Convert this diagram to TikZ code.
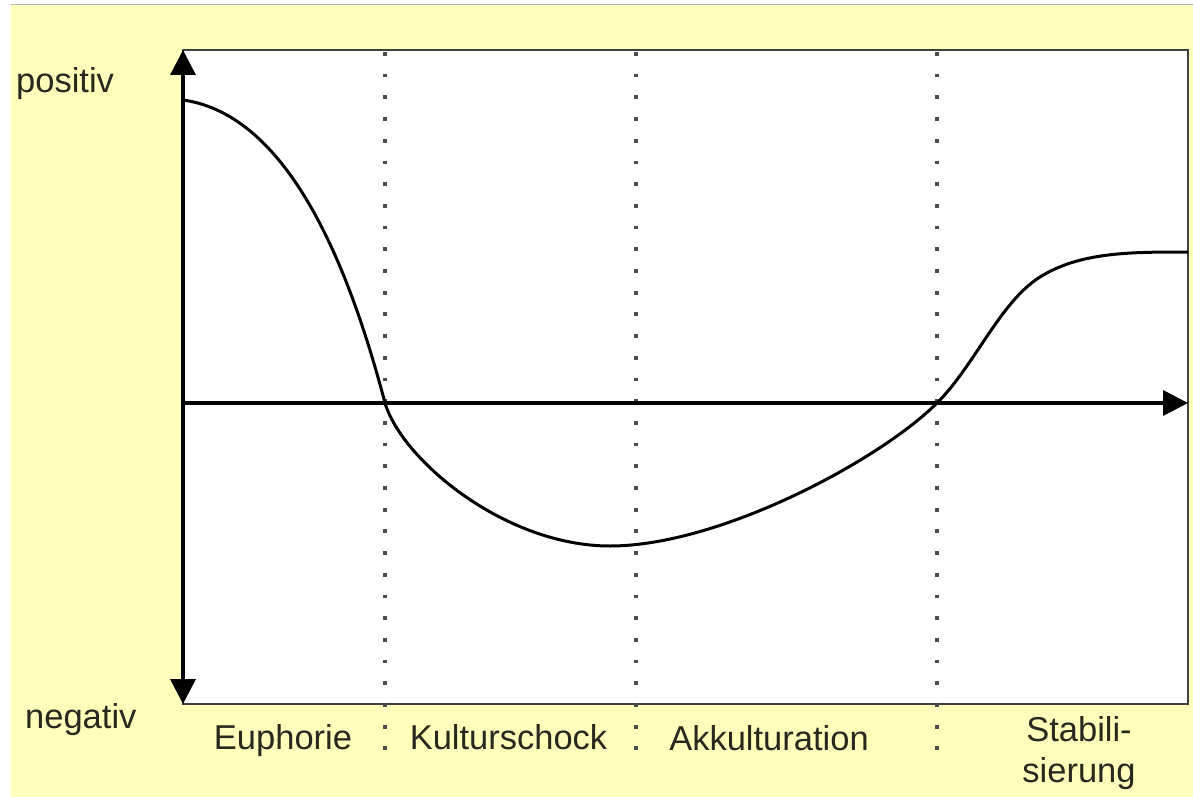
\documentclass[tikz,border=0pt]{standalone}
\usepackage{fontspec}
\setmainfont{Liberation Sans}
\usetikzlibrary{arrows.meta}
\definecolor{bgyellow}{RGB}{255,255,187}
\definecolor{txt}{RGB}{40,40,30}
\tikzset{
  lbl/.style={inner sep=0pt, text=txt, font=\fontsize{34.5}{41}\selectfont},
  axis/.style={line width=3.5pt, -{Triangle[length=25pt,width=25pt]}},
  phase/.style={line width=3.8pt, black!70, dash pattern=on 3.8pt off 17.9pt},
  curve/.style={line width=3pt, black},
  frame/.style={draw=black!75, fill=white, line width=2pt}
}
\begin{document}
\begin{tikzpicture}[x=1pt,y=-1pt]
\useasboundingbox (0,0) rectangle (1193,797);
% background
\fill[white] (0,0) rectangle (1193,797);
\fill[bgyellow] (11,5) rectangle (1193,797);
\draw[black!30, line width=1.2pt] (11,4.5) -- (1193,4.5);
% plot area
\draw[frame] (183,50) rectangle (1188,704);
% phase separators
\coordinate (s1t) at (385,52);  \coordinate (s1b) at (385,760);
\coordinate (s2t) at (636,52);  \coordinate (s2b) at (636,760);
\coordinate (s3t) at (937,52);  \coordinate (s3b) at (937,760);
\draw[phase] (s1t) -- (s1b);
\draw[phase] (s2t) -- (s2b);
\draw[phase] (s3t) -- (s3b);
% axes
\coordinate (O)    at (183,403);
\coordinate (ytop) at (183,50);
\coordinate (ybot) at (183,704);
\coordinate (xend) at (1188,403);
\draw[axis] (O) -- (ytop);
\draw[axis] (O) -- (ybot);
\draw[axis] (O) -- (xend);
% curve
\coordinate (c0) at (183,100);
\coordinate (c1) at (385,403);
\coordinate (c2) at (610,546);
\coordinate (c3) at (937,403);
\coordinate (c4) at (1040,277);
\coordinate (c5) at (1188,252);
\draw[curve] (c0) .. controls (290,115) and (350,270) .. (c1)
  .. controls (402,460) and (505,546) .. (c2)
  .. controls (720,546) and (880,460) .. (c3)
  .. controls (975,365) and (1000,302) .. (c4)
  .. controls (1080,252) and (1130,252) .. (c5);
% labels
\node[lbl, anchor=base west] (pos) at (16,93) {positiv};
\node[lbl, anchor=base west] (neg) at (25,728) {negativ};
\node[lbl, anchor=base] (eup) at (283,749) {Euphorie};
\node[lbl, anchor=base] (kul) at (508.5,749) {Kulturschock};
\node[lbl, anchor=base] (akk) at (769,750) {Akkulturation};
\node[lbl, anchor=base, align=center] (stab) at (1079,782) {Stabili-\\sierung};
\end{tikzpicture}
\end{document}
